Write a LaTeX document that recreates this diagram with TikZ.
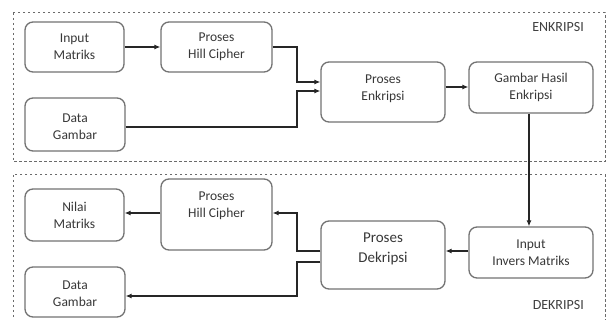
\documentclass[tikz,border=0pt]{standalone}
\usepackage{fontspec}
\setmainfont{Carlito}
\usetikzlibrary{arrows.meta}
\begin{document}
\begin{tikzpicture}[x=1pt,y=-1pt,
  stepbox/.style={draw=black!55,line width=1.3pt,rounded corners=8pt,fill=white,inner sep=0pt},
  txt/.style={align=center,text=black!78,font=\fontsize{13.5}{17}\selectfont,inner sep=0pt},
  bigtxt/.style={align=center,text=black!78,font=\fontsize{15}{20}\selectfont,inner sep=0pt},
  conn/.style={draw=black!85,line width=1.1pt,-{Latex[length=6pt,width=5pt]}},
  frame/.style={draw=black!58,line width=1pt,dash pattern=on 2.5pt off 2.5pt},
  lbl/.style={text=black!75,font=\fontsize{14}{16}\selectfont,inner sep=0pt,anchor=east}]
\useasboundingbox (0,0) rectangle (608,320);
\fill[white] (0,0) rectangle (608,320);
% frames
\draw[frame] (13,13) rectangle (605,162);
\draw[frame] (13,175) rectangle (605,330);
\node[lbl] (enklbl) at (584,27) {ENKRIPSI};
\node[lbl] (deklbl) at (584,305) {DEKRIPSI};
% top boxes
\node[stepbox,minimum width=99pt,minimum height=50pt] (im) at (74.5,47) {};
\node[txt] (imt) at (im.center) {Input\\Matriks};
\node[stepbox,minimum width=111pt,minimum height=50pt] (hc1) at (216.5,47) {};
\node[txt] (hc1t) at (hc1.center) {Proses\\Hill Cipher};
\node[stepbox,minimum width=100pt,minimum height=53pt] (dg1) at (75,124.5) {};
\node[txt] (dg1t) at ([yshift=-2pt]dg1.center) {Data\\Gambar};
\node[stepbox,minimum width=124pt,minimum height=60pt] (enk) at (383,92) {};
\node[txt] (enkt) at ([yshift=3.5pt]enk.center) {Proses\\Enkripsi};
\node[stepbox,minimum width=124pt,minimum height=51pt] (gh) at (531,87.5) {};
\node[txt] (ght) at (gh.center) {Gambar Hasil\\Enkripsi};
% bottom boxes
\node[stepbox,minimum width=99pt,minimum height=52pt] (nm) at (74.5,215) {};
\node[txt] (nmt) at (nm.center) {Nilai\\Matriks};
\node[stepbox,minimum width=111pt,minimum height=71pt] (hc2) at (216.5,214.5) {};
\node[txt] (hc2t) at ([yshift=9pt]hc2.center) {Proses\\Hill Cipher};
\node[stepbox,minimum width=100pt,minimum height=50pt] (dg2) at (75,292) {};
\node[txt] (dg2t) at ([yshift=-1.5pt]dg2.center) {Data\\Gambar};
\node[stepbox,minimum width=124pt,minimum height=68pt] (dek) at (383,255) {};
\node[bigtxt] (dekt) at ([yshift=6pt]dek.center) {Proses\\Dekripsi};
\node[stepbox,minimum width=124pt,minimum height=51pt] (inv) at (531,252.5) {};
\node[txt] (invt) at ([yshift=-0.5pt]inv.center) {Input\\Invers Matriks};
% junction coordinates
\coordinate (ja) at (297,47);
\coordinate (jb) at (297,82);
\coordinate (jc) at (297,127);
\coordinate (jd) at (297,91);
\coordinate (je) at (297,251);
\coordinate (jf) at (297,213);
\coordinate (jg) at (297,262);
\coordinate (jh) at (297,296);
% connectors top
\draw[conn] (im.east |- 0,47) -- (hc1.west |- 0,47);
\draw[conn] (hc1.east |- ja) -- (ja) -- (jb) -- (enk.west |- jb);
\draw[conn] (dg1.east |- jc) -- (jc) -- (jd) -- (enk.west |- jd);
\draw[conn] (enk.east |- 0,87) -- (gh.west |- 0,87);
\draw[conn] (gh.south -| 529,0) -- (inv.north -| 529,0);
% connectors bottom
\draw[conn] (inv.west |- 0,251) -- (dek.east |- 0,251);
\draw[conn] (dek.west |- je) -- (je) -- (jf) -- (hc2.east |- jf);
\draw[conn] (dek.west |- jg) -- (jg) -- (jh) -- (dg2.east |- jh);
\draw[conn] (hc2.west |- 0,213) -- (nm.east |- 0,213);
\end{tikzpicture}
\end{document}
